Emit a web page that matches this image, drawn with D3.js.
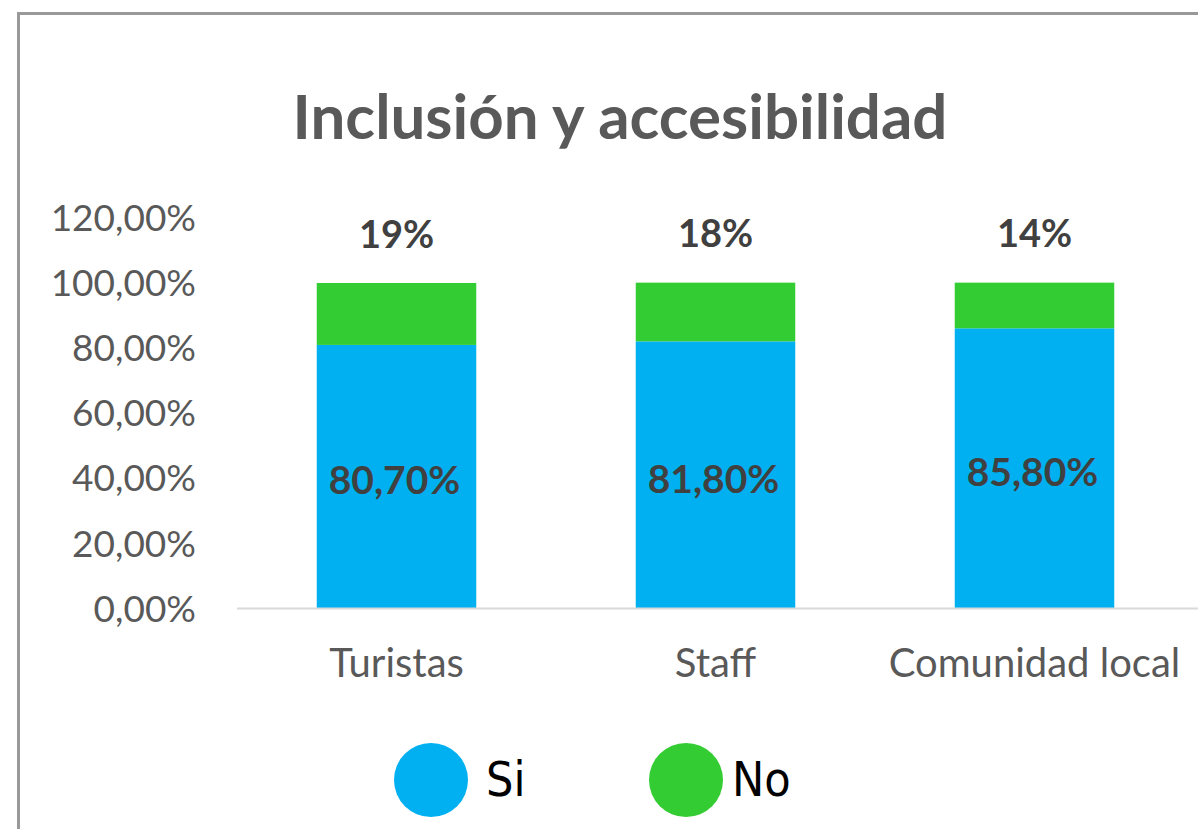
<!DOCTYPE html>
<html>
<head>
<meta charset="utf-8">
<script src="https://cdn.jsdelivr.net/npm/d3@7"></script>
<style>
  html, body { margin: 0; padding: 0; background: #fff; }
  svg { display: block; }
</style>
</head>
<body>
<svg id="chart" width="1198" height="829"></svg>
<script>
const categories = ["Turistas", "Staff", "Comunidad local"];
const siValues = [80.7, 81.8, 85.8];
const noValues = [19, 18, 14];
const siLabels = ["80,70%", "81,80%", "85,80%"];
const noLabels = ["19%", "18%", "14%"];
const yTicks = [0, 20, 40, 60, 80, 100, 120];
const seriesNames = ["Si", "No"];
const colors = { Si: "#00B0F0", No: "#33CC33" };
const title = "Inclusión y accesibilidad";

const svg = d3.select("#chart");

// frame
svg.append("rect")
  .attr("x", 18.5).attr("y", 13.5)
  .attr("width", 1300).attr("height", 900)
  .attr("fill", "#fff").attr("stroke", "#999").attr("stroke-width", 3);

const x = d3.scaleBand().domain(categories).range([237, 1194]).paddingInner(0.5).paddingOuter(0.25);
const y = d3.scaleLinear().domain([0, 120]).range([608, 216.8]);

// title
const t = svg.append("text")
  .attr("x", 620).attr("y", 139)
  .attr("text-anchor", "middle")
  .attr("font-family", "Lato, 'Open Sans', sans-serif")
  .attr("font-weight", "bold")
  .attr("font-size", 56)
  .attr("fill", "#595959")
  .text(title);
const tl = t.node().getComputedTextLength();
t.attr("font-size", 56 * 655 / tl);

// y axis
const yAxis = d3.axisLeft(y).tickValues(yTicks).tickSize(0)
  .tickFormat(d => d3.format(".2f")(d).replace(".", ",") + "%");
const gy = svg.append("g").attr("transform", "translate(196,0)").call(yAxis);
gy.select(".domain").remove();
gy.selectAll("text")
  .attr("x", 0).attr("dy", "0.36em")
  .attr("font-family", "Lato, 'Open Sans', sans-serif")
  .attr("font-size", 37).attr("fill", "#595959");

// stacked data
const data = categories.map((c, i) => ({ cat: c, Si: siValues[i], No: noValues[i] }));
const stack = d3.stack().keys(seriesNames)(data);

svg.append("g").selectAll("g").data(stack).join("g")
  .attr("fill", d => colors[d.key])
  .selectAll("rect").data(d => d).join("rect")
  .attr("x", d => x(d.data.cat))
  .attr("width", x.bandwidth())
  .attr("y", d => y(d[1]))
  .attr("height", d => y(d[0]) - y(d[1]));

// baseline
svg.append("line")
  .attr("x1", 237).attr("x2", 1198)
  .attr("y1", y(0) + 0.5).attr("y2", y(0) + 0.5)
  .attr("stroke", "#d9d9d9").attr("stroke-width", 2);

// x axis labels
const xAxis = d3.axisBottom(x).tickSize(0);
const gx = svg.append("g").attr("transform", `translate(0,${y(0)})`).call(xAxis);
gx.select(".domain").remove();
gx.selectAll("text")
  .attr("y", 69).attr("dy", "0")
  .attr("font-family", "Lato, 'Open Sans', sans-serif")
  .attr("font-size", 40).attr("fill", "#595959");

// Si labels
svg.append("g").selectAll("text").data(data).join("text")
  .attr("x", d => x(d.cat) + x.bandwidth() / 2 - 2)
  .attr("y", d => (y(0) + y(d.Si)) / 2 + 4)
  .attr("dy", "0.36em")
  .attr("text-anchor", "middle")
  .attr("font-family", "Lato, 'Open Sans', sans-serif")
  .attr("font-weight", "bold")
  .attr("font-size", 39).attr("fill", "#404040")
  .text((d, i) => siLabels[i]);

// No labels
svg.append("g").selectAll("text").data(data).join("text")
  .attr("x", d => x(d.cat) + x.bandwidth() / 2)
  .attr("y", d => y(d.Si + d.No) - 49)
  .attr("dy", "0.36em")
  .attr("text-anchor", "middle")
  .attr("font-family", "Lato, 'Open Sans', sans-serif")
  .attr("font-weight", "bold")
  .attr("font-size", 38).attr("fill", "#404040")
  .text((d, i) => noLabels[i]);

// legend
const legendX = [431, 686];
const lg = svg.append("g").selectAll("g").data(seriesNames).join("g")
  .attr("transform", (d, i) => `translate(${legendX[i]},780)`);
lg.append("circle").attr("r", 37).attr("fill", d => colors[d]);
lg.append("text")
  .attr("x", d => d === "Si" ? 55 : 46).attr("dy", "0.34em")
  .attr("font-family", "'Liberation Sans Narrow', 'DejaVu Sans Condensed', sans-serif")
  .attr("font-size", 48).attr("fill", "#000")
  .text(d => d);
</script>
</body>
</html>
